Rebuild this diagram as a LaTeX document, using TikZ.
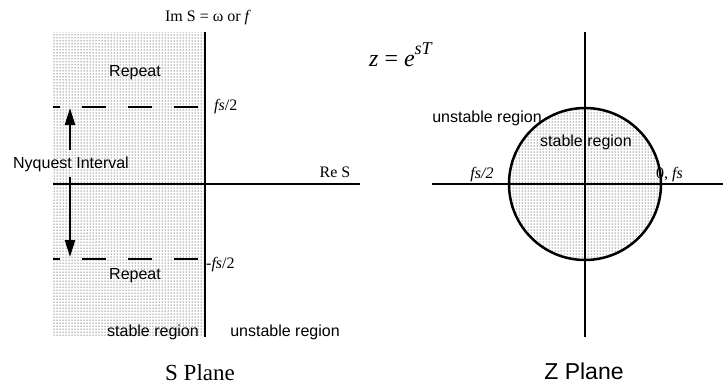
\documentclass[tikz,border=0pt]{standalone}
\usepackage{fontspec}
\setmainfont{Liberation Serif}
\newfontfamily\hv{Liberation Sans}
\usetikzlibrary{arrows.meta,patterns}
\begin{document}
\begin{tikzpicture}[x=1pt,y=-1pt,
  axis/.style={line width=2.5pt},
  dash line/.style={line width=2.5pt, dash pattern=on 24pt off 22pt, dash phase=17pt},
  stipple/.style={pattern=dots, pattern color=black},
  sans/.style={font=\hv\fontsize{16}{18}\selectfont, inner sep=0pt},
  serif/.style={font=\fontsize{16}{18}\selectfont, inner sep=0pt},
  title/.style={inner sep=0pt},
  arr/.style={line width=2.5pt, -{Triangle[length=17pt,width=10pt]}}]
\useasboundingbox (0,0) rectangle (723,389);
% ---------- S plane ----------
\fill[stipple] (53,32) rectangle (205,336);
\coordinate (sTop) at (205,32);
\coordinate (sBot) at (205,337);
\coordinate (sLeft) at (53,184);
\coordinate (sRight) at (360,184);
\draw[axis] (sTop) -- (sBot);
\draw[axis] (sLeft) -- (sRight);
\coordinate (d1a) at (53,107); \coordinate (d1b) at (205,107);
\coordinate (d2a) at (53,259); \coordinate (d2b) at (205,259);
\draw[dash line] (d1a) -- (d1b);
\draw[dash line] (d2a) -- (d2b);
\node[serif] (ims) at (208,18) {Im S = ω or \textit{f}};
\node[sans] (rep1) at (135,73) {Repeat};
\node[sans] (rep2) at (135,276) {Repeat};
\node[sans] (nyq) at (71,164) {Nyquest Interval};
\coordinate (nyqTop) at (70,108);
\coordinate (nyqBot) at (70,257);
\draw[arr] (nyq.north -| nyqTop) ++(0,-6) coordinate (na) (na) -- (nyqTop);
\draw[arr] (nyq.south -| nyqBot) ++(0,5) coordinate (nb) (nb) -- (nyqBot);
\node[serif, anchor=west] (fs1) at (214,107) {\textit{fs}/2};
\node[serif, anchor=west] (fs2) at (206,265) {-\textit{fs}/2};
\node[serif] (res) at (335,172) {Re S};
\node[sans] (sst) at (153,332) {stable region};
\node[sans] (sun) at (285,332) {unstable region};
\node[title, font=\fontsize{23}{26}\selectfont] (splane) at (200,373) {S Plane};
% ---------- Z plane ----------
\coordinate (zc) at (585,184);
\fill[stipple] (zc) circle[radius=76];
\coordinate (zTop) at (585,32);
\coordinate (zBot) at (585,337);
\coordinate (zLeft) at (432,184);
\coordinate (zRight) at (723,184);
\draw[axis] (zTop) -- (zBot);
\draw[axis] (zLeft) -- (zRight);
\node[title, anchor=west, font=\fontsize{24}{28}\selectfont] (zeq) at (369,55) {\textit{z} = \textit{e}\raisebox{0.5em}{\fontsize{18}{20}\selectfont\textit{sT}}};
\node[sans] (zun) at (487,118) {unstable region};
\node[sans] (zst) at (586,142) {stable region};
\node[serif] (zfs) at (482,175) {\textit{fs/2}};
\node[serif, anchor=west] (z0) at (656,175) {0, \textit{fs}};
\draw[axis] (zc) circle[radius=76];
\node[title, font=\hv\fontsize{23}{26}\selectfont] (zplane) at (584,371) {Z Plane};
\end{tikzpicture}
\end{document}
